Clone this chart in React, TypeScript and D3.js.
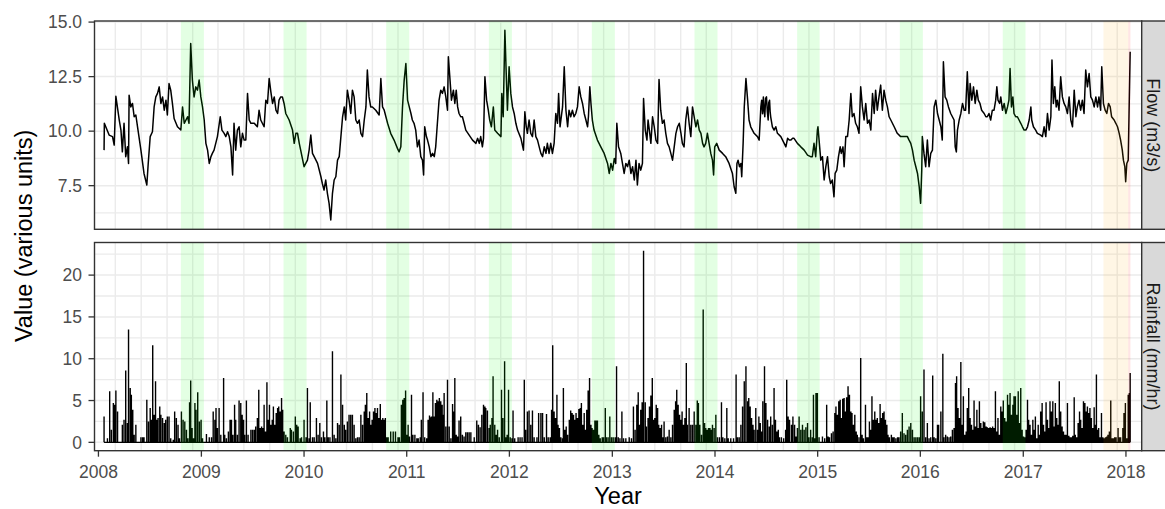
import React, { useEffect } from "react";
import * as d3 from "d3";

// ---------- DATA (days since 2008-01-01, value) ----------
const flow2008to2011: [number, number][] = [
  [20,9.13],[21,10.36],[26,10.2],[38,9.82],[50,9.75],[56,9.36],[62,11.6],[74,10.51],[80,10.05],[85,9.05],[91,10.36],[97,8.83],[103,9.28],[107,8.52],[109,11.65],[115,11.11],[121,11.27],[127,10.66],[133,10.74],[139,10.2],[151,9.13],[162,8.06],[172,7.53],[177,8.52],[184,9.75],[192,9.97],[198,11.11],[204,11.57],[210,11.73],[216,12.03],[222,11.27],[228,11.57],[234,10.96],[240,11.42],[245,10.74],[251,12.18],[257,11.88],[263,11.27],[269,10.58],[281,10.2],[293,10.05],[299,11.11],[305,10.36],[317,10.66],[322,10.36],[328,14.02],[334,12.34],[340,11.57],[346,12.03],[352,11.88],[358,12.34],[364,11.57],[370,11.11],[376,10.51],[382,9.44],[388,9.13],[394,8.52],[400,8.83],[405,8.98],[411,9.13],[417,9.44],[423,9.75],[433,10.66],[439,10.05],[447,9.9],[453,9.75],[459,9.97],[465,9.75],[471,9.28],[477,7.99],[482,10.36],[488,9.13],[494,10.05],[500,10.2],[506,9.28],[512,9.9],[518,9.59],[524,9.59],[530,11.73],[536,10.51],[542,10.36],[554,10.36],[565,10.2],[571,10.96],[577,10.51],[589,10.2],[595,11.42],[601,11.27],[607,12.41],[613,11.8],[619,11.27],[625,11.57],[631,10.96],[637,10.81],[642,11.42],[648,11.57],[654,11.57],[660,11.27],[666,10.81],[678,10.51],[690,10.05],[696,9.44],[702,9.9],[708,9.9],[714,9.44],[719,9.13],[731,8.37],[743,8.67],[749,9.13],[755,9.82],[761,8.98],[767,8.83],[779,8.52],[791,7.91],[796,7.6],[802,7.3],[808,7.76],[814,7.15],[820,6.69],[826,5.93],[832,7.15],[838,7.76],[844,7.91],[850,8.67],[856,8.83],[862,9.75],[868,10.66],[874,11.11],[879,10.51],[885,11.88],[891,11.42],[897,10.81],[903,11.88],[909,11.57],[915,10.51],[921,10.36],[927,10.51],[933,9.9],[939,9.75],[945,10.51],[951,11.11],[956,12.8],[962,11.57],[968,11.11],[974,11.11],[986,10.96],[998,10.74],[1004,12.41],[1010,11.11],[1016,10.96],[1028,10.36],[1039,9.9],[1051,9.59],[1063,9.21],[1069,9.05],[1075,9.28],[1081,11.11],[1087,12.34],[1093,13.1],[1099,11.42],[1105,11.11],[1111,10.81],[1116,10.51],[1122,10.36],[1128,10.05],[1134,9.28],[1140,9.59],[1146,8.83],[1152,8.67],[1156,7.99],[1160,10.2],[1166,9.75],[1170,9.59],[1176,9.28],[1182,8.83],[1188,8.98],[1194,8.83],[1199,9.28],[1205,10.36],[1211,11.42],[1217,11.88],[1223,11.73]
];

const flow2011to2014: [number, number][] = [
  [1229,12.03],[1235,11.57],[1241,10.96],[1244,13.41],[1250,12.34],[1255,11.42],[1262,11.88],[1267,11.27],[1272,11.88],[1277,11.11],[1282,10.81],[1288,10.66],[1294,10.66],[1300,10.36],[1306,10.05],[1318,9.82],[1330,9.59],[1342,9.44],[1348,9.67],[1354,9.44],[1359,9.75],[1365,9.28],[1369,9.67],[1374,12.49],[1380,11.42],[1386,10.96],[1391,10.51],[1397,10.2],[1404,11.11],[1409,10.05],[1419,9.9],[1431,9.75],[1434,11.73],[1439,10.66],[1445,14.63],[1449,12.95],[1454,10.96],[1460,12.95],[1466,11.73],[1472,11.11],[1478,10.81],[1484,10.36],[1490,10.05],[1502,9.67],[1511,9.13],[1516,10.89],[1521,10.2],[1525,9.9],[1531,10.51],[1537,9.9],[1543,9.75],[1549,10.51],[1555,9.75],[1561,9.59],[1567,9.28],[1573,8.98],[1579,8.83],[1585,9.28],[1591,8.98],[1596,9.44],[1602,8.98],[1608,9.44],[1614,8.98],[1620,9.44],[1626,10.81],[1632,10.36],[1636,11.73],[1641,10.2],[1650,11.11],[1656,12.95],[1662,10.96],[1668,10.2],[1673,10.96],[1679,10.66],[1685,10.96],[1691,10.66],[1697,10.81],[1703,11.11],[1709,12.03],[1715,11.57],[1721,11.27],[1727,10.81],[1733,10.51],[1739,10.2],[1742,10.66],[1747,12.03],[1751,11.27],[1756,10.51],[1762,10.05],[1774,9.59],[1786,9.28],[1798,8.98],[1810,8.52],[1816,8.06],[1822,8.52],[1828,8.21],[1834,8.75],[1839,8.52],[1843,10.36],[1849,9.28],[1857,8.98],[1863,8.52],[1869,8.06],[1875,8.52],[1881,8.37],[1887,8.67],[1893,8.06],[1899,8.37],[1905,7.76],[1911,8.67],[1916,7.53],[1922,8.52],[1928,8.21],[1934,8.52],[1938,11.5],[1944,10.05],[1950,9.59],[1954,10.51],[1960,9.9],[1964,9.44],[1970,10.66],[1976,10.2],[1982,9.59],[1988,9.44],[1993,12.37],[1999,10.96],[2005,10.36],[2011,10.51],[2017,9.9],[2023,9.44],[2029,9.28],[2035,8.98],[2041,8.67],[2047,9.28],[2053,9.9],[2059,10.2],[2065,10.36],[2071,9.9],[2076,9.44],[2082,9.28],[2088,10.51],[2094,11.11],[2100,10.36],[2106,9.75],[2112,11.11],[2118,10.66],[2124,10.2],[2130,10.51],[2136,10.05],[2142,9.9],[2148,9.44],[2153,9.28],[2159,9.44],[2165,9.9],[2171,9.44],[2177,8.98],[2183,8.67],[2187,7.99],[2191,9.28],[2198,9.44],[2207,9.13],[2219,8.98],[2230,8.83],[2242,8.52],[2254,8.06],[2260,7.45],[2266,7.15],[2270,8.52],[2274,8.67],[2279,8.37],[2284,8.52],[2287,7.91],[2292,9.44],[2296,11.11],[2302,12.41],[2308,11.42],[2313,10.51],[2319,10.2],[2325,10.05],[2331,9.9],[2343,9.75],[2349,9.59],[2355,11.11],[2358,11.42],[2361,10.8],[2364,11.57],[2367,10.9],[2369,10.66],[2372,11.5],[2375,11.57],[2378,10.9],[2381,10.51],[2383,11.3],[2386,11.42],[2388,10.9],[2390,10.66],[2396,10.2],[2402,10.05],[2408,10.2],[2414,9.9],[2426,9.75],[2438,9.44],[2444,9.28],[2450,9.67],[2456,9.59],[2462,9.59],[2468,9.67]
];

const flow2014to2018: [number, number][] = [
  [2473,9.67],[2485,9.44],[2497,9.28],[2509,9.13],[2521,8.9],[2532,8.83],[2538,8.83],[2544,9.44],[2550,8.83],[2556,10.05],[2558,10.2],[2562,9.59],[2568,8.67],[2574,8.83],[2580,7.76],[2586,8.37],[2592,8.83],[2598,7.91],[2603,7.6],[2609,7.76],[2615,6.99],[2619,8.06],[2625,8.21],[2631,8.83],[2637,9.28],[2641,8.98],[2647,9.28],[2651,8.37],[2657,9.75],[2663,9.75],[2669,10.51],[2675,11.73],[2680,10.66],[2686,10.81],[2692,10.36],[2698,10.2],[2704,9.9],[2710,12.03],[2716,11.11],[2722,10.51],[2728,11.27],[2734,10.36],[2740,10.51],[2746,10.05],[2752,11.73],[2758,10.81],[2763,11.88],[2769,10.96],[2775,11.57],[2781,12.11],[2787,10.96],[2793,11.88],[2799,11.42],[2805,11.11],[2811,10.66],[2817,10.51],[2829,10.2],[2840,9.9],[2852,9.75],[2864,9.75],[2876,9.75],[2882,9.59],[2888,9.44],[2894,9.13],[2900,8.67],[2906,8.37],[2912,8.06],[2918,7.45],[2923,6.69],[2927,8.21],[2929,9.75],[2935,8.98],[2941,8.37],[2947,9.59],[2953,8.37],[2959,8.98],[2965,9.13],[2971,11.11],[2977,11.42],[2983,10.81],[2989,10.51],[2995,10.2],[3000,9.59],[3004,13.18],[3010,11.57],[3016,11.42],[3022,11.11],[3030,10.81],[3036,10.66],[3042,10.51],[3046,9.28],[3050,9.05],[3054,10.05],[3060,10.51],[3066,10.81],[3072,11.27],[3078,10.96],[3083,10.96],[3089,12.72],[3095,10.81],[3099,12.18],[3105,11.42],[3111,12.03],[3117,11.27],[3123,11.88],[3128,11.42],[3134,11.27],[3140,10.96],[3149,10.81],[3155,10.66],[3160,10.66],[3166,10.81],[3172,10.51],[3178,10.96],[3184,10.96],[3190,11.42],[3194,12.03],[3198,11.42],[3204,11.27],[3208,11.57],[3214,10.96],[3220,11.27],[3226,10.81],[3232,11.11],[3237,11.42],[3241,12.87],[3246,11.11],[3251,11.57],[3255,10.81],[3261,10.66],[3267,10.66],[3273,10.51],[3279,10.36],[3285,10.2],[3291,10.05],[3297,10.05],[3303,10.2],[3309,10.51],[3315,11.11],[3318,10.51],[3324,10.2],[3332,10.05],[3338,9.9],[3350,9.82],[3356,9.75],[3362,10.2],[3368,9.75],[3374,10.81],[3380,10.05],[3386,10.66],[3390,13.26],[3395,11.27],[3400,12.03],[3405,11.11],[3409,11.42],[3415,10.96],[3421,12.49],[3427,11.57],[3433,11.27],[3439,11.11],[3445,10.81],[3451,11.57],[3457,10.51],[3463,10.2],[3469,11.88],[3475,10.66],[3480,11.11],[3486,11.42],[3492,10.96],[3498,11.42],[3504,10.81],[3510,12.8],[3516,12.03],[3522,12.64],[3528,11.57],[3534,11.42],[3540,11.11],[3546,11.57],[3552,11.11],[3557,11.57],[3563,10.96],[3567,12.95],[3573,11.27],[3579,10.96],[3585,10.81],[3591,11.27],[3597,11.11],[3602,10.66],[3611,10.51],[3617,10.36],[3623,10.2],[3629,9.9],[3634,9.59],[3640,9.13],[3644,8.67],[3649,8.37],[3652,7.68],[3656,8.52],[3661,8.67],[3664,10.81],[3668,13.64]
];

const rain2008to2011: [number, number][] = [
  [20,3.1],[32,0.5],[40,6.1],[46,1.5],[53,4.7],[58,4.5],[62,6.2],[68,3.7],[85,2.1],[91,2.7],[97,8.6],[103,2.3],[107,13.5],[113,6.5],[117,5.7],[122,3.9],[127,0.9],[133,2.1],[151,0.6],[157,0.6],[162,0.6],[172,5.1],[178,2.5],[184,4.1],[189,2.7],[193,11.6],[198,3.3],[203,7.3],[208,2.7],[212,2.9],[218,4.3],[222,3.3],[228,2.9],[234,2.3],[239,2.7],[245,3.1],[251,3.1],[257,0.5],[266,0.3],[271,3.7],[277,2.9],[283,2.1],[288,0.5],[295,3.7],[301,2.7],[307,2.5],[313,1.5],[318,0.5],[324,4.8],[328,7.4],[333,1.7],[338,0.5],[343,4.7],[347,3.9],[353,6.0],[359,2.5],[365,2.7],[370,0.5],[384,1.0],[394,0.6],[402,0.6],[408,3.7],[414,2.7],[418,4.1],[423,1.7],[429,4.1],[435,0.9],[445,7.7],[449,0.9],[455,0.5],[462,1.3],[468,2.7],[473,2.7],[478,0.9],[484,4.5],[488,2.7],[494,0.9],[500,5.0],[506,4.7],[511,3.3],[516,2.7],[520,0.9],[526,5.0],[532,0.9],[542,1.5],[548,1.5],[554,1.5],[559,1.9],[565,2.9],[570,6.3],[575,1.7],[580,1.9],[584,1.7],[589,4.5],[594,1.3],[599,7.2],[603,2.7],[608,4.5],[613,2.1],[618,2.7],[622,4.3],[627,2.1],[632,3.5],[637,4.1],[641,4.3],[646,3.7],[651,5.3],[655,3.9],[660,1.3],[666,0.9],[672,0.6],[682,1.7],[686,1.5],[693,1.3],[700,3.1],[705,2.1],[710,1.9],[717,0.5],[722,0.6],[731,2.7],[738,0.6],[743,6.5],[749,0.5],[753,4.8],[761,0.6],[767,0.6],[775,2.9],[781,0.9],[787,2.3],[793,0.6],[800,1.3],[805,0.6],[812,5.0],[817,0.6],[823,0.6],[832,10.9],[838,0.9],[844,0.5],[850,2.3],[856,2.1],[862,8.1],[868,4.5],[874,2.1],[879,1.5],[885,2.5],[891,3.3],[897,3.3],[903,3.3],[909,2.1],[915,0.5],[921,0.6],[927,0.6],[933,3.3],[939,2.1],[945,3.7],[949,4.5],[954,5.9],[959,2.9],[964,3.7],[968,2.1],[973,2.7],[978,3.7],[983,4.1],[987,3.5],[992,4.1],[997,2.9],[1002,4.6],[1006,2.7],[1011,2.9],[1016,2.7],[1020,2.9],[1025,0.6],[1030,0.6],[1039,1.3],[1048,1.3],[1056,1.3],[1065,0.6],[1070,0.6],[1077,4.5],[1082,5.1],[1087,5.3],[1092,6.2],[1096,0.9],[1101,2.1],[1106,0.7],[1113,5.7],[1118,0.9],[1125,0.9],[1132,0.5],[1137,0.5],[1144,0.6],[1148,2.7],[1154,6.0],[1160,0.6],[1167,0.5],[1172,2.7],[1177,3.2],[1182,3.0],[1184,3.1],[1189,6.0],[1194,3.1],[1198,4.7],[1203,5.1],[1208,4.9],[1212,5.3],[1217,4.9],[1222,4.5],[1227,3.3]
];

const rain2011to2014: [number, number][] = [
  [1229,5.9],[1235,1.9],[1241,7.5],[1247,1.9],[1253,0.5],[1259,4.6],[1262,3.7],[1267,7.7],[1272,0.9],[1277,0.7],[1282,2.6],[1288,3.1],[1294,0.9],[1300,0.7],[1306,1.2],[1312,1.2],[1318,1.2],[1324,1.2],[1336,0.6],[1345,2.6],[1351,2.1],[1357,1.8],[1363,3.3],[1369,4.5],[1374,4.3],[1377,4.1],[1383,3.8],[1389,1.7],[1393,2.1],[1399,2.9],[1403,7.9],[1409,2.1],[1414,0.9],[1419,1.5],[1425,0.6],[1433,6.3],[1438,2.9],[1444,9.7],[1448,0.6],[1453,0.9],[1458,6.3],[1464,0.6],[1470,0.5],[1474,3.8],[1480,0.5],[1492,0.6],[1499,0.6],[1506,0.6],[1514,7.5],[1519,1.5],[1525,3.7],[1531,3.8],[1537,2.1],[1543,3.8],[1549,0.6],[1559,0.6],[1565,3.5],[1573,3.5],[1579,3.5],[1585,0.6],[1593,3.4],[1599,0.6],[1606,0.6],[1611,3.9],[1615,11.6],[1620,3.7],[1625,2.9],[1630,5.7],[1634,2.1],[1639,1.7],[1644,0.6],[1650,0.5],[1653,6.5],[1658,1.5],[1663,1.9],[1668,0.9],[1674,2.7],[1679,3.8],[1684,3.5],[1689,3.3],[1694,2.7],[1698,3.5],[1703,2.9],[1708,4.0],[1713,4.1],[1717,4.7],[1722,2.1],[1727,3.5],[1732,1.5],[1736,3.9],[1741,6.2],[1746,7.7],[1751,2.1],[1755,1.7],[1760,1.5],[1765,2.6],[1770,2.6],[1774,2.6],[1779,0.9],[1784,0.5],[1791,0.6],[1796,0.6],[1802,4.1],[1806,0.6],[1812,0.6],[1818,3.1],[1824,0.6],[1830,0.6],[1837,0.6],[1842,9.1],[1848,0.6],[1854,0.5],[1861,3.7],[1867,0.5],[1875,0.5],[1887,0.6],[1895,0.5],[1902,4.3],[1908,1.5],[1914,4.5],[1919,6.0],[1924,2.1],[1928,3.9],[1933,4.8],[1938,22.9],[1944,4.8],[1948,1.9],[1954,2.9],[1959,4.3],[1964,5.6],[1969,7.7],[1973,2.7],[1978,2.9],[1983,4.5],[1988,4.1],[1992,2.1],[1997,1.7],[2002,2.1],[2007,0.6],[2011,2.5],[2017,0.6],[2023,0.7],[2029,1.5],[2035,0.6],[2041,2.1],[2047,3.9],[2052,4.9],[2056,6.3],[2061,4.5],[2066,3.3],[2071,2.7],[2075,3.7],[2080,2.1],[2085,2.9],[2090,9.5],[2094,2.1],[2100,4.1],[2106,2.1],[2112,2.1],[2118,3.7],[2124,2.1],[2129,5.0],[2133,4.7],[2138,2.1],[2144,0.9],[2150,15.9],[2155,2.3],[2159,1.7],[2164,1.5],[2169,1.7],[2174,1.7],[2178,1.5],[2183,2.1],[2189,1.7],[2195,3.3],[2201,0.6],[2208,0.6],[2215,4.8],[2220,0.6],[2227,0.5],[2234,4.1],[2239,0.5],[2248,0.5],[2258,0.5],[2267,8.1],[2272,0.6],[2278,0.6],[2284,2.1],[2290,4.3],[2296,7.3],[2302,9.1],[2308,4.9],[2312,5.3],[2317,4.3],[2322,2.9],[2327,2.1],[2331,1.5],[2337,4.1],[2343,1.5],[2348,3.1],[2353,2.3],[2357,1.3],[2362,4.9],[2368,9.1],[2373,4.7],[2379,2.7],[2385,1.9],[2390,3.1],[2396,2.1],[2402,6.5],[2407,2.7],[2412,1.3],[2417,1.5],[2421,0.6],[2428,0.6],[2436,0.5],[2443,1.5],[2447,7.5],[2452,3.1],[2457,2.7],[2464,2.1],[2469,3.1]
];

const rain2014to2018: [number, number][] = [
  [2475,2.1],[2480,0.7],[2485,1.7],[2491,3.1],[2497,1.5],[2503,2.1],[2509,1.5],[2515,1.8],[2521,2.3],[2526,0.6],[2532,1.5],[2538,0.6],[2542,5.7],[2547,0.5],[2551,5.9],[2556,5.9],[2562,0.6],[2574,0.7],[2582,0.5],[2589,4.5],[2594,0.7],[2599,0.6],[2606,1.1],[2612,1.3],[2618,3.5],[2622,4.3],[2627,3.3],[2632,4.9],[2637,5.1],[2641,2.9],[2646,5.2],[2651,5.3],[2656,3.7],[2660,5.4],[2665,6.7],[2670,5.7],[2675,3.7],[2679,3.5],[2684,2.1],[2689,3.3],[2694,1.3],[2698,0.9],[2704,0.6],[2710,10.1],[2715,0.9],[2720,0.5],[2727,4.5],[2731,0.6],[2736,0.6],[2741,2.5],[2746,1.5],[2750,5.5],[2755,2.7],[2760,3.7],[2765,2.7],[2769,2.9],[2774,2.3],[2779,4.6],[2784,2.9],[2788,3.5],[2793,3.7],[2798,2.7],[2803,2.1],[2807,0.9],[2812,0.6],[2819,0.9],[2824,0.6],[2829,0.6],[2835,0.5],[2841,0.6],[2846,0.6],[2852,1.3],[2858,3.5],[2864,1.1],[2870,0.9],[2876,1.5],[2882,1.9],[2888,2.3],[2894,1.5],[2900,0.6],[2906,0.6],[2912,0.6],[2918,0.6],[2923,5.5],[2929,3.7],[2935,8.7],[2941,0.6],[2947,2.3],[2953,0.5],[2959,0.6],[2966,8.0],[2971,0.6],[2977,0.5],[2983,2.1],[2987,2.1],[2995,3.7],[3002,10.6],[3006,0.6],[3012,0.9],[3018,0.7],[3024,0.6],[3030,0.7],[3036,1.5],[3042,1.7],[3047,7.1],[3051,7.9],[3056,4.1],[3061,2.9],[3066,9.6],[3070,2.1],[3075,5.5],[3080,0.9],[3085,1.3],[3089,4.1],[3094,6.5],[3099,2.9],[3104,2.1],[3108,1.5],[3113,5.0],[3118,1.9],[3123,3.9],[3127,1.7],[3132,4.9],[3137,2.3],[3142,1.7],[3146,2.5],[3151,2.4],[3156,1.9],[3160,1.8],[3165,1.7],[3170,1.8],[3175,1.7],[3179,1.9],[3184,1.7],[3189,6.1],[3194,1.3],[3198,2.9],[3203,0.9],[3208,4.3],[3213,3.7],[3217,5.0],[3222,2.9],[3227,2.5],[3232,5.7],[3236,4.5],[3241,5.9],[3246,3.3],[3251,4.5],[3255,5.5],[3260,5.5],[3265,3.3],[3270,6.1],[3274,2.3],[3279,6.5],[3284,1.5],[3289,0.7],[3293,0.6],[3298,1.5],[3303,5.1],[3307,2.7],[3312,2.1],[3317,0.9],[3322,2.7],[3326,1.5],[3331,3.1],[3336,0.5],[3341,2.1],[3345,0.9],[3350,3.7],[3355,4.7],[3360,2.1],[3364,1.3],[3369,4.8],[3374,2.7],[3379,1.7],[3383,4.9],[3388,3.7],[3393,4.9],[3397,1.9],[3402,4.7],[3407,2.9],[3412,2.1],[3416,7.3],[3421,3.7],[3426,1.9],[3431,1.3],[3435,0.9],[3440,0.9],[3445,4.7],[3450,0.8],[3454,0.6],[3459,0.6],[3464,0.8],[3469,5.4],[3473,0.9],[3478,0.6],[3483,2.3],[3488,3.7],[3492,2.7],[3497,1.7],[3502,4.9],[3507,4.7],[3511,3.7],[3516,4.3],[3521,3.5],[3525,4.1],[3530,2.9],[3535,1.7],[3540,4.2],[3544,2.1],[3548,8.1],[3552,1.5],[3556,1.7],[3561,0.6],[3566,3.5],[3571,0.6],[3575,0.5],[3580,0.6],[3585,0.7],[3589,0.9],[3594,1.3],[3599,5.0],[3604,0.5],[3608,0.5],[3613,0.6],[3618,0.6],[3625,1.7],[3630,0.6],[3634,0.6],[3642,1.7],[3646,3.5],[3651,4.7],[3656,0.5],[3661,5.7],[3665,5.9],[3668,8.3]
];

const flowTicks = [7.5, 10, 12.5, 15];
const flowTickLabels = ["7.5", "10.0", "12.5", "15.0"];
const flowMinorTicks = [6.25, 8.75, 11.25, 13.75];
const rainTicks = [0, 5, 10, 15, 20];
const rainMinorTicks = [2.5, 7.5, 12.5, 17.5, 22.5];
const yearTicks = [2008, 2009, 2010, 2011, 2012, 2013, 2014, 2015, 2016, 2017, 2018];
const seasonMonths = [2, 5, 8, 11]; // Mar, Jun, Sep, Dec gridlines
const greenWindows: [string, string][] = [
  ["2008-10-20", "2009-01-10"], ["2009-10-20", "2010-01-10"], ["2010-10-20", "2011-01-10"],
  ["2011-10-20", "2012-01-10"], ["2012-10-20", "2013-01-10"], ["2013-10-20", "2014-01-10"],
  ["2014-10-20", "2015-01-08"], ["2015-10-20", "2016-01-10"], ["2016-10-20", "2017-01-09"],
];
const orangeWindows: [string, string][] = [["2017-10-13", "2018-01-09"]];
const redWindows: [string, string][] = [["2018-01-09", "2018-01-17"]];
const facetLabels = ["Flow (m3/s)", "Rainfall (mm/hr)"];

// ---------- LAYOUT ----------
const W = 1165, H = 509;
const PL = 94.5, PR = 1141.7;
const FLOW_TOP = 21, FLOW_BOT = 229.3;
const RAIN_TOP = 242.5, RAIN_BOT = 450.7;
const STRIP_W = 32;
const FONT = "'Liberation Sans', Arial, Helvetica, sans-serif";
const TICK_FS = 17.5;
const STRIP_FS = 18;
const TITLE_FS = 23.5;

const DAY0 = Date.UTC(2008, 0, 1);
const toDate = (d: number) => new Date(DAY0 + d * 86400000);
const parse = (s: string) => {
  const [y, m, d] = s.split("-").map(Number);
  return new Date(Date.UTC(y, m - 1, d));
};

export default function App() {
  useEffect(() => {
    document.body.style.margin = "0";
  }, []);

  const x = d3.scaleUtc()
    .domain([new Date(Date.UTC(2007, 11, 18)), new Date(Date.UTC(2018, 1, 26))])
    .range([PL, PR]);
  const yFlow = d3.scaleLinear().domain([5.5, 15.05]).range([FLOW_BOT, FLOW_TOP]);
  const yRain = d3.scaleLinear().domain([-1.0, 23.9]).range([RAIN_BOT, RAIN_TOP]);

  const flowAll = [...flow2008to2011, ...flow2011to2014, ...flow2014to2018];
  const rainAll = [...rain2008to2011, ...rain2011to2014, ...rain2014to2018];

  const flowPath = d3.line<[number, number]>()
    .x((d) => x(toDate(d[0])))
    .y((d) => yFlow(d[1]))(flowAll) || "";

  const rainStart = d3.min(rainAll, (d) => d[0]) as number;
  const rainEnd = d3.max(rainAll, (d) => d[0]) as number;
  const y0 = yRain(0);
  let rainPath = `M${x(toDate(rainStart))},${y0}H${x(toDate(rainEnd))}`;
  rainAll.forEach((d) => {
    const xx = x(toDate(d[0]));
    rainPath += `M${xx},${y0}V${yRain(d[1])}`;
  });

  const gridDates: Date[] = [];
  for (let yr = 2007; yr <= 2018; yr++) {
    seasonMonths.forEach((m) => {
      const dt = new Date(Date.UTC(yr, m, 1));
      const px = x(dt);
      if (px > PL && px < PR) gridDates.push(dt);
    });
  }

  const panels = [
    { top: FLOW_TOP, bot: FLOW_BOT, y: yFlow, major: flowTicks, minor: flowMinorTicks, labels: flowTickLabels, label: facetLabels[0] },
    { top: RAIN_TOP, bot: RAIN_BOT, y: yRain, major: rainTicks, minor: rainMinorTicks, labels: rainTicks.map(String), label: facetLabels[1] },
  ];

  const rects = (top: number, bot: number) => (
    <g>
      {greenWindows.map((w, i) => (
        <rect key={"g" + i} x={x(parse(w[0]))} y={top} width={x(parse(w[1])) - x(parse(w[0]))} height={bot - top} fill="#00ff00" fillOpacity={0.11} />
      ))}
      {orangeWindows.map((w, i) => (
        <rect key={"o" + i} x={x(parse(w[0]))} y={top} width={x(parse(w[1])) - x(parse(w[0]))} height={bot - top} fill="#ffa500" fillOpacity={0.1} />
      ))}
      {redWindows.map((w, i) => (
        <rect key={"r" + i} x={x(parse(w[0]))} y={top} width={x(parse(w[1])) - x(parse(w[0]))} height={bot - top} fill="#ff0000" fillOpacity={0.1} />
      ))}
    </g>
  );

  return (
    <svg width={W} height={H} viewBox={`0 0 ${W} ${H}`} style={{ position: "absolute", left: 0, top: 0, background: "#fff" }} fontFamily={FONT}>
      <rect x={0} y={0} width={W} height={H} fill="#fff" />
      <defs>
        <clipPath id="clipFlow"><rect x={PL} y={FLOW_TOP} width={PR - PL} height={FLOW_BOT - FLOW_TOP} /></clipPath>
        <clipPath id="clipRain"><rect x={PL} y={RAIN_TOP} width={PR - PL} height={RAIN_BOT - RAIN_TOP} /></clipPath>
      </defs>

      {panels.map((p, pi) => (
        <g key={pi}>
          <rect x={PL} y={p.top} width={PR - PL} height={p.bot - p.top} fill="#fff" />
          {p.minor.map((v) => (
            <line key={"mn" + v} x1={PL} x2={PR} y1={p.y(v)} y2={p.y(v)} stroke="#ebebeb" strokeWidth={1.3} />
          ))}
          {p.major.map((v) => (
            <line key={"mj" + v} x1={PL} x2={PR} y1={p.y(v)} y2={p.y(v)} stroke="#ebebeb" strokeWidth={1.5} />
          ))}
          {gridDates.map((dt, i) => (
            <line key={"v" + i} x1={x(dt)} x2={x(dt)} y1={p.top} y2={p.bot} stroke="#ebebeb" strokeWidth={1.4} />
          ))}
          <g clipPath={pi === 0 ? "url(#clipFlow)" : "url(#clipRain)"}>
            {pi === 0 ? (
              <path d={flowPath} fill="none" stroke="#000" strokeWidth={1.5} strokeLinejoin="round" />
            ) : (
              <path d={rainPath} fill="none" stroke="#000" strokeWidth={1.4} />
            )}
            {rects(p.top, p.bot)}
          </g>
          <rect x={PL} y={p.top} width={PR - PL} height={p.bot - p.top} fill="none" stroke="#333" strokeWidth={1.4} />
          {p.major.map((v, i) => (
            <g key={"t" + v}>
              <line x1={PL - 6} x2={PL} y1={p.y(v)} y2={p.y(v)} stroke="#333" strokeWidth={1.3} />
              <text x={82} y={p.y(v) + 6.2} textAnchor="end" fontSize={TICK_FS} fill="#4d4d4d">{p.labels[i]}</text>
            </g>
          ))}
          <rect x={PR} y={p.top} width={STRIP_W} height={p.bot - p.top} fill="#d9d9d9" stroke="#333" strokeWidth={1.4} />
          <text transform={`translate(${PR + 5},${(p.top + p.bot) / 2}) rotate(90)`} textAnchor="middle" fontSize={STRIP_FS} fill="#1a1a1a">{p.label}</text>
        </g>
      ))}

      {yearTicks.map((yr) => {
        const px = x(new Date(Date.UTC(yr, 0, 1)));
        return (
          <g key={yr}>
            <line x1={px} x2={px} y1={RAIN_BOT} y2={RAIN_BOT + 6} stroke="#333" strokeWidth={1.3} />
            <text x={px} y={478} textAnchor="middle" fontSize={TICK_FS} fill="#4d4d4d">{yr}</text>
          </g>
        );
      })}

      <text x={(PL + PR) / 2} y={504} textAnchor="middle" fontSize={TITLE_FS} fill="#000">Year</text>
      <text transform={`translate(31.5,${(FLOW_TOP + RAIN_BOT) / 2}) rotate(-90)`} textAnchor="middle" fontSize={TITLE_FS} fill="#000">Value (various units)</text>
    </svg>
  );
}
